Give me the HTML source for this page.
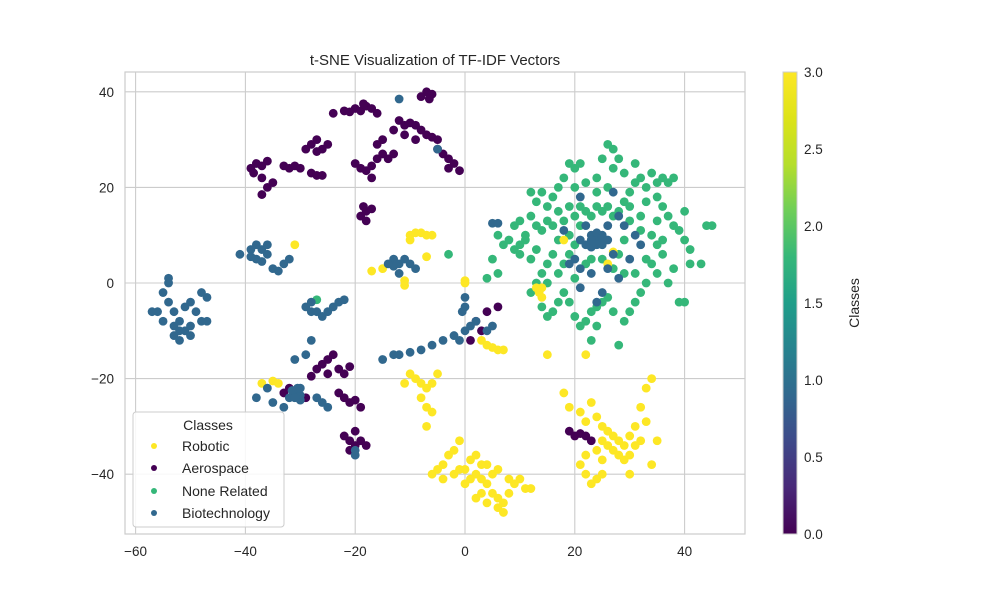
<!DOCTYPE html>
<html><head><meta charset="utf-8"><style>
body{margin:0;background:#fff;}
svg{display:block;font-family:"Liberation Sans",sans-serif;}
</style></head><body>
<svg id="chart" width="1000" height="600" viewBox="0 0 1000 600">
<defs><linearGradient id="vir" x1="0" y1="1" x2="0" y2="0">
<stop offset="0" stop-color="#440154"/><stop offset="0.1" stop-color="#482878"/><stop offset="0.2" stop-color="#3e4989"/><stop offset="0.3" stop-color="#31688e"/><stop offset="0.4" stop-color="#26828e"/><stop offset="0.5" stop-color="#1f9e89"/><stop offset="0.6" stop-color="#35b779"/><stop offset="0.7" stop-color="#6ece58"/><stop offset="0.8" stop-color="#b5de2b"/><stop offset="0.9" stop-color="#dde318"/><stop offset="1" stop-color="#fde725"/></linearGradient></defs>
<text x="435" y="65" text-anchor="middle" font-size="15" fill="#262626">t-SNE Visualization of TF-IDF Vectors</text>
<g id="grid"></g><g id="pts"></g><g id="axes"></g>
<rect x="125" y="72" width="620" height="462" fill="none" stroke="#cccccc" stroke-width="1.2"/>
<g>
<rect x="133" y="412" width="151" height="115" rx="3" fill="#fff" fill-opacity="0.85" stroke="#cccccc"/>
<text x="208" y="430" text-anchor="middle" font-size="14" fill="#262626">Classes</text>
<g><circle cx="154" cy="446" r="3" fill="#fde725"/><text x="182" y="451" font-size="14" fill="#262626">Robotic</text></g>
<g><circle cx="154" cy="468" r="3" fill="#440154"/><text x="182" y="473" font-size="14" fill="#262626">Aerospace</text></g>
<g><circle cx="154" cy="491" r="3" fill="#35b779"/><text x="182" y="496" font-size="14" fill="#262626">None Related</text></g>
<g><circle cx="154" cy="513" r="3" fill="#31688e"/><text x="182" y="518" font-size="14" fill="#262626">Biotechnology</text></g>
</g>
<g>
<rect x="783" y="72" width="14" height="462" fill="url(#vir)" stroke="#cccccc"/>
<g id="cbticks"></g>
<text transform="translate(859,303) rotate(-90)" text-anchor="middle" font-size="14" fill="#262626">Classes</text>
</g>
</svg>
<script>
const xTicks=[-60,-40,-20,0,20,40];
const yTicks=[-40,-20,0,20,40];
const cbTicks=[0.0,0.5,1.0,1.5,2.0,2.5,3.0];
const classNames=["Robotic","Aerospace","None Related","Biotechnology"];
const classColors=["#fde725","#440154","#35b779","#31688e"];
const noneRelated=[[-3,6],[-27,-3.5],[4,1],[6,2],[7,8],[8,9],[9,7],[10,6],[11,10],[9,12],[10,13],[12,14],[11,9],[12,5],[13,7],[14,11],[15,13],[16,12],[13,17],[12,19],[14,19],[15,16],[16,18],[17,20],[18,22],[19,25],[20,24],[21,25],[17,15],[18,13],[19,16],[20,14],[21,16],[22,15],[23,14],[24,16],[25,15],[26,16],[27,14],[28,15],[29,17],[30,19],[31,21],[32,22],[33,20],[34,23],[35,21],[36,22],[37,21],[38,22],[35,18],[36,16],[37,14],[38,12],[39,11],[40,9],[40,15],[41,7],[43,4],[44,12],[45,12],[41,4],[39,-4],[40,-4],[38,3],[36,6],[35,8],[34,4],[33,0],[32,-2],[31,-4],[30,-6],[29,-8],[28,-13],[27,-6],[26,-3],[25,-4],[24,-5],[23,-6],[22,-8],[21,-9],[20,-7],[19,-4],[18,-2],[17,-4],[16,-6],[15,-7],[14,-5],[17,2],[18,4],[19,6],[20,8],[16,6],[15,4],[14,2],[13,0],[22,4],[23,5],[25,5],[27,3],[29,2],[31,2],[33,5],[32,11],[34,10],[35,13],[36,9],[30,13],[29,9],[24,22],[25,26],[26,29],[27,28],[28,26],[27,24],[24,19],[22,21],[20,20],[29,23],[31,25],[33,17],[35,2],[37,0],[28,6],[20,1],[24,-9],[23,-12],[13,12],[10,8],[6,10],[5,5],[15,0],[12,-2],[19,10],[21,12],[26,20],[30,16],[32,14],[17,9]];
const aerospace=[[-24,35.5],[-22,36],[-20,36.5],[-19,36],[-18,37],[-17,36.5],[-16,35.5],[-21,35.8],[-18.5,37.5],[-12,34],[-11,33],[-10,33.5],[-9,33],[-8,32],[-7,31],[-6,30.5],[-5,30],[-8,39],[-7,40],[-6,39.5],[-6.5,38.5],[-28,29],[-27,30],[-26,28],[-25,29],[-27,27.5],[-29,28],[-38,25],[-37,24.5],[-36,25.5],[-38.5,23],[-39,24],[-37,22],[-36,20],[-37,18.5],[-35,21],[-33,24.5],[-32,24],[-31,24.5],[-30,24],[-28,23],[-27,22.5],[-26,22.5],[-20,25],[-19,24],[-18,23.5],[-17,24.5],[-16,26],[-15,27],[-14,26],[-16,29],[-15,30],[-13,27],[-17,22],[-19,14],[-18,15],[-17,15.5],[-18,13],[-18.5,16],[-4,27],[-3,26],[-2,25],[-3,24],[-1,23.5],[-5,28],[-11,31],[-9,30],[-13,32],[-27,-18],[-26,-17],[-25,-16],[-24,-15],[-23,-18],[-22,-19],[-25,-19],[-21,-17.5],[-28,-19.5],[-22,-24],[-21,-25],[-20,-24.5],[-19,-26],[-23,-23],[-22,-32],[-21,-33],[-20,-34],[-19,-33],[-18,-34],[-21,-35],[-20,-31],[-33,-23],[-32,-22],[-29,-24],[2,-8],[4,-6],[6,-5],[3,-10],[1,-12],[19,-31],[20,-32],[21,-31.5],[22,-32],[23,-33]];
const robotic=[[-10,10],[-9,10.5],[-8,10.5],[-7,10],[-6,10],[-10,9],[-31,8],[-17,2.5],[-15,3],[-11,0.5],[-11,-0.5],[-7,5.5],[0,0],[0,0.5],[13,-1],[13.5,-2],[14,-3],[14,-1],[3,-12],[4,-13],[5,-13.5],[6,-14],[7,-14],[15,-15],[22,-15],[-10,-19],[-9,-20],[-8,-21],[-7,-22],[-8,-24],[-7,-26],[-6,-27],[-6,-21],[-5,-19],[-11,-21],[-7,-30],[-37,-21],[-35,-20.5],[-34,-21],[-6,-40],[-5,-39],[-4,-38],[-3,-36],[-2,-35],[-1,-33],[-4,-41],[-2,-40],[0,-39],[1,-37],[2,-36],[2,-40],[3,-41],[4,-42],[5,-44],[6,-45],[7,-46],[8,-44],[9,-42],[10,-41],[11,-43],[5,-40],[4,-38],[2,-45],[3,-44],[6,-47],[7,-48],[0,-42],[-1,-39],[12,-43],[4,-46],[8,-41],[1,-41],[6,-39],[3,-38],[18,-23],[19,-26],[21,-27],[23,-25],[22,-29],[24,-28],[25,-30],[26,-31],[27,-32],[28,-33],[29,-34],[30,-32],[31,-30],[32,-26],[33,-22],[34,-20],[26,-34],[27,-35],[28,-36],[29,-37],[30,-36],[31,-34],[32,-33],[25,-33],[24,-35],[25,-37],[22,-36],[21,-38],[22,-40],[23,-42],[24,-41],[25,-40],[34,-38],[35,-33],[33,-29],[30,-40],[18,9],[27,6.5],[26,4]];
const biotechnology=[[-56,-6],[-55,-2],[-54,-4],[-53,-6],[-52,-8],[-51,-10],[-53,-11],[-52,-12],[-50,-9],[-48,-8],[-47,-8],[-54,1],[-54,0],[-51,-5],[-50,-4],[-49,-6],[-47,-3],[-48,-2],[-55,-8],[-53,-9],[-52,-10],[-50,-11],[-57,-6],[-41,6],[-39,7],[-38,8],[-37,7],[-36,6],[-38,5],[-37,4.5],[-39,5.5],[-36,8],[-35,3],[-33,4],[-32,5],[-34,2.5],[-29,-5],[-28,-6],[-27,-6],[-26,-7],[-25,-6],[-24,-5],[-23,-4],[-22,-3.5],[-28,-4],[-13,5],[-12,4],[-11,5],[-10,4],[-9,3],[-12,2],[-13,3.5],[-14,4],[-12,38.5],[-5,28],[-15,-16],[-13,-15],[-12,-15],[-10,-14.5],[-8,-14],[-6,-13],[-4,-12],[-2,-11],[0,-10],[1,-9],[2,-8],[-1,-12],[0,-3],[0,-5],[-0.5,-6],[4,-10],[5,-9],[5,12.5],[6,12.5],[-31,-23],[-30,-23.5],[-31.5,-22.5],[-30.5,-22],[-32,-24],[-30,-24.5],[-31,-24],[-30,-22],[-38,-24],[-35,-25],[-33,-26],[-27,-24],[-26,-25],[-25,-26],[-31,-16],[-29,-15],[-28,-12],[-36,-22],[-20,-35],[-20,-36],[21,9],[22,8],[23,10],[24,9],[25,8],[26,9],[24,10.5],[23,7.5],[25,10],[24,8],[23,9],[25,9.5],[20,5],[19,4],[21,3],[23,2],[27,6],[26,3],[25,-2],[28,14],[29,12],[31,10],[27,19],[21,18],[22,12],[26,12],[18,11],[32,8],[28,1],[30,5],[24,-4],[21,-1]];
const X0=465,XS=5.49,Y0=283,YS=4.78;
function sx(v){return X0+v*XS;}
function sy(v){return Y0-v*YS;}
function cby(v){return 534-v/3*462;}
function fmt(t){return t<0?'\u2212'+Math.abs(t):String(t);}
const NS="http://www.w3.org/2000/svg";
function mk(tag,attrs,parent){const e=document.createElementNS(NS,tag);for(const k in attrs)e.setAttribute(k,attrs[k]);parent.appendChild(e);return e;}
const grid=document.getElementById('grid'),axes=document.getElementById('axes'),pts=document.getElementById('pts'),cbt=document.getElementById('cbticks');
xTicks.forEach(t=>{
  const l=mk('line',{x1:sx(t),x2:sx(t),y1:72,y2:534,stroke:'#cccccc','stroke-width':1.1},grid);
  
  
  const tx=mk('text',{x:sx(t),y:556,'text-anchor':'middle','font-size':13.5,fill:'#262626'},axes);
  tx.textContent=fmt(t);
  
  
});
yTicks.forEach(t=>{
  const l=mk('line',{x1:125,x2:745,y1:sy(t),y2:sy(t),stroke:'#cccccc','stroke-width':1.1},grid);
  
  
  const tx=mk('text',{x:114,y:sy(t)+5,'text-anchor':'end','font-size':13.5,fill:'#262626'},axes);
  tx.textContent=fmt(t);
  
  
});
cbTicks.forEach(t=>{
  const tx=mk('text',{x:804,y:cby(t)+5,'font-size':13.5,fill:'#262626'},cbt);
  tx.textContent=t.toFixed(1);
  
  
});
[[noneRelated,2],[aerospace,1],[robotic,0],[biotechnology,3]].forEach(([arr,c])=>{
  arr.forEach(p=>{
    const ci=mk('circle',{cx:sx(p[0]),cy:sy(p[1]),r:4.4,fill:classColors[c]},pts);
    
    
  });
});
</script>
</body></html>
